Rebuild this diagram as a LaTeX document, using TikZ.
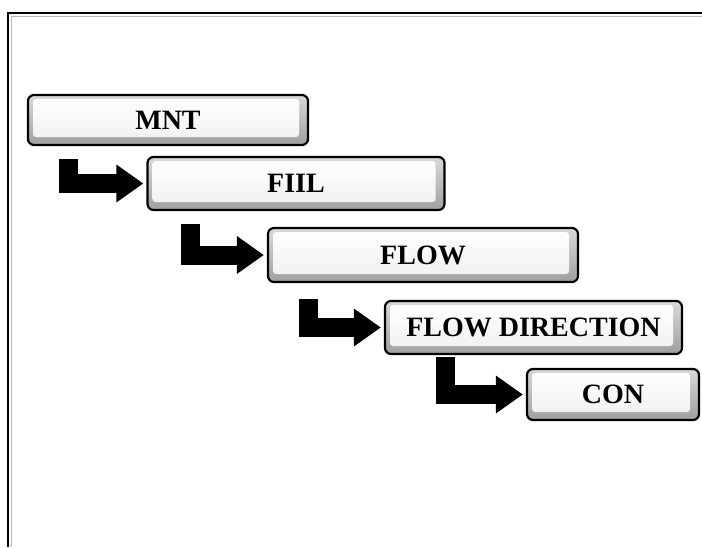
\documentclass[tikz,border=0pt]{standalone}
\usepackage{fontspec}
\setmainfont{Liberation Serif}
\usetikzlibrary{arrows.meta,calc}

\tikzset{
  stagebox/.style={draw=black, line width=2.2pt, rounded corners=6pt,
    top color=gray!30, bottom color=gray!75, inner sep=0pt,
    font=\fontsize{28}{32}\selectfont\bfseries,
    path picture={\shade[top color=white, bottom color=gray!12, rounded corners=3pt]
      ([shift={(5pt,-4pt)}]path picture bounding box.north west) rectangle
      ([shift={(-9pt,8pt)}]path picture bounding box.south east);}},
  steparrow/.style={line width=19pt, line join=miter, shorten >=3pt,
    -{Triangle[length=27pt,width=36pt]}}
}

\begin{document}
\begin{tikzpicture}[x=1pt,y=-1pt]
  \useasboundingbox (0,0) rectangle (702,547);

  % Frame
  \draw[line width=1.6pt] (8,547) -- (8,13) -- (702,13);
  \draw[gray!55, line width=1pt] (11,547) -- (11,16) -- (702,16);

  % Define nodes for all stages
  \node[stagebox, minimum width=280pt, minimum height=50pt] (MNT) at (168,120) {MNT};
  \node[stagebox, minimum width=297pt, minimum height=53pt] (FIIL) at (296,183.5) {FIIL};
  \node[stagebox, minimum width=310pt, minimum height=54pt] (FLOW) at (423,255) {FLOW};
  \node[stagebox, minimum width=297pt, minimum height=53pt] (FD) at (533.5,327.5) {FLOW DIRECTION};
  \node[stagebox, minimum width=172pt, minimum height=51pt] (CON) at (613,394.5) {CON};

  % Draw arrows
  \draw[steparrow] ($(MNT.south west)+(42,13)$) |- (FIIL.west);
  \draw[steparrow] ($(FIIL.south west)+(44,13)$) |- (FLOW.west);
  \draw[steparrow] ($(FLOW.south west)+(42,16)$) |- (FD.west);
  \draw[steparrow] ($(FD.south west)+(62,2)$) |- (CON.west);

\end{tikzpicture}
\end{document}
